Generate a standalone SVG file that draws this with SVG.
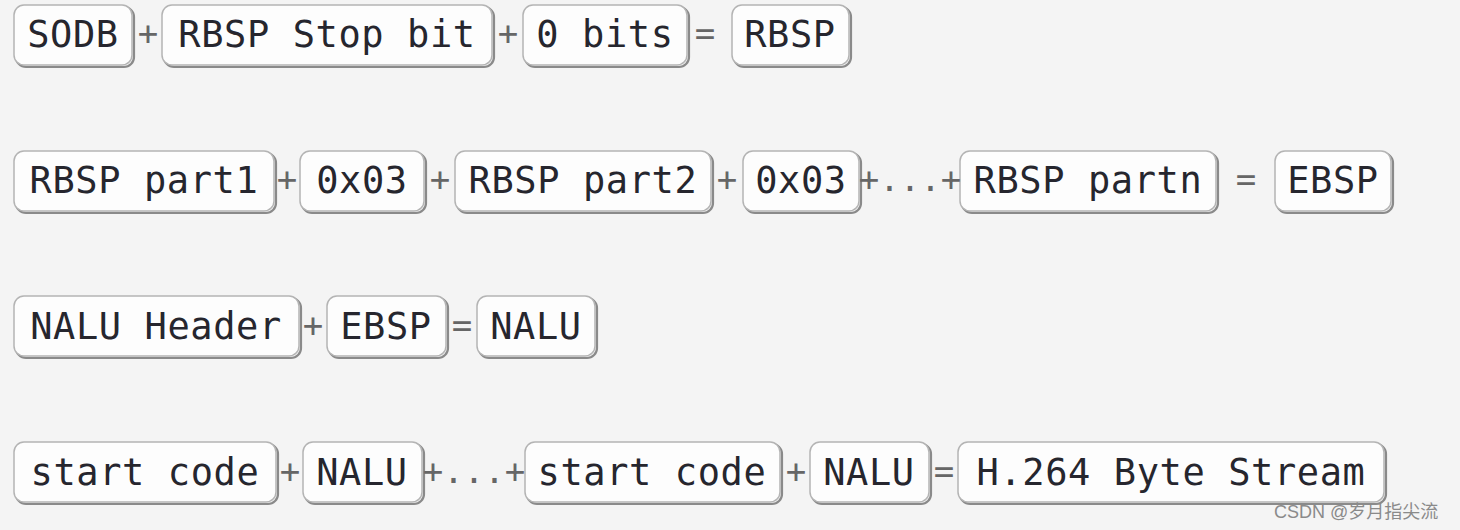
<svg xmlns="http://www.w3.org/2000/svg" width="1460" height="530" viewBox="0 0 1460 530">
<style>
.bg{fill:#f4f4f4}
.sh{fill:none;stroke:#8a8a8a;stroke-width:2.2}
.bx{fill:#fdfdfd;stroke:#b4b4b4;stroke-width:1.5}
.t{font-family:"DejaVu Sans Mono","Liberation Mono",monospace;font-size:37px;letter-spacing:0.6px;fill:#26262e;text-anchor:middle}
.op{font-family:"DejaVu Sans Mono","Liberation Mono",monospace;font-size:34px;fill:#666;text-anchor:middle}
.wm{font-family:"Liberation Sans","Noto Sans CJK SC",sans-serif;font-size:18px;fill:#8a8a8a}
</style>
<rect class="bg" x="0" y="0" width="1460" height="530"/>

<!-- Row 1 -->
<g id="n-sodb"><rect class="sh" x="16" y="7" width="118" height="60" rx="10"/><rect class="bx" x="14" y="5" width="118" height="60" rx="10"/><text class="t" x="73" y="47">SODB</text></g>
<g id="n-stopbit"><rect class="sh" x="164" y="7" width="330" height="60" rx="10"/><rect class="bx" x="162" y="5" width="330" height="60" rx="10"/><text class="t" x="327" y="47">RBSP Stop bit</text></g>
<g id="n-0bits"><rect class="sh" x="525" y="7" width="164" height="60" rx="10"/><rect class="bx" x="523" y="5" width="164" height="60" rx="10"/><text class="t" x="605" y="47">0 bits</text></g>
<g id="n-rbsp"><rect class="sh" x="734" y="7" width="117" height="60" rx="10"/><rect class="bx" x="732" y="5" width="117" height="60" rx="10"/><text class="t" x="790" y="47">RBSP</text></g>

<!-- Row 2 -->
<g id="n-part1"><rect class="sh" x="16" y="153" width="260" height="60" rx="10"/><rect class="bx" x="14" y="151" width="260" height="60" rx="10"/><text class="t" x="144" y="193">RBSP part1</text></g>
<g id="n-0x03a"><rect class="sh" x="302" y="153" width="124" height="60" rx="10"/><rect class="bx" x="300" y="151" width="124" height="60" rx="10"/><text class="t" x="362" y="193">0x03</text></g>
<g id="n-part2"><rect class="sh" x="457" y="153" width="256" height="60" rx="10"/><rect class="bx" x="455" y="151" width="256" height="60" rx="10"/><text class="t" x="583" y="193">RBSP part2</text></g>
<g id="n-0x03b"><rect class="sh" x="745" y="153" width="116" height="60" rx="10"/><rect class="bx" x="743" y="151" width="116" height="60" rx="10"/><text class="t" x="801" y="193">0x03</text></g>
<g id="n-partn"><rect class="sh" x="962" y="153" width="256" height="60" rx="10"/><rect class="bx" x="960" y="151" width="256" height="60" rx="10"/><text class="t" x="1088" y="193">RBSP partn</text></g>
<g id="n-ebsp"><rect class="sh" x="1277" y="153" width="116" height="60" rx="10"/><rect class="bx" x="1275" y="151" width="116" height="60" rx="10"/><text class="t" x="1333" y="193">EBSP</text></g>

<!-- Row 3 -->
<g id="n-header"><rect class="sh" x="16" y="298" width="285" height="60" rx="10"/><rect class="bx" x="14" y="296" width="285" height="60" rx="10"/><text class="t" x="156" y="339">NALU Header</text></g>
<g id="n-ebsp2"><rect class="sh" x="329" y="298" width="119" height="60" rx="10"/><rect class="bx" x="327" y="296" width="119" height="60" rx="10"/><text class="t" x="386" y="339">EBSP</text></g>
<g id="n-nalu"><rect class="sh" x="479" y="298" width="118" height="60" rx="10"/><rect class="bx" x="477" y="296" width="118" height="60" rx="10"/><text class="t" x="536" y="339">NALU</text></g>

<!-- Row 4 -->
<g id="n-start1"><rect class="sh" x="16" y="444" width="262" height="60" rx="10"/><rect class="bx" x="14" y="442" width="262" height="60" rx="10"/><text class="t" x="145" y="485">start code</text></g>
<g id="n-nalu1"><rect class="sh" x="305" y="444" width="119" height="60" rx="10"/><rect class="bx" x="303" y="442" width="119" height="60" rx="10"/><text class="t" x="362" y="485">NALU</text></g>
<g id="n-start2"><rect class="sh" x="527" y="444" width="255" height="60" rx="10"/><rect class="bx" x="525" y="442" width="255" height="60" rx="10"/><text class="t" x="652" y="485">start code</text></g>
<g id="n-nalu2"><rect class="sh" x="812" y="444" width="119" height="60" rx="10"/><rect class="bx" x="810" y="442" width="119" height="60" rx="10"/><text class="t" x="869" y="485">NALU</text></g>
<g id="n-stream"><rect class="sh" x="960" y="444" width="426" height="60" rx="10"/><rect class="bx" x="958" y="442" width="426" height="60" rx="10"/><text class="t" x="1171" y="485">H.264 Byte Stream</text></g>

<!-- Operators (connectors) -->
<g id="connectors">
<text class="op" x="148" y="45">+</text>
<text class="op" x="508" y="45">+</text>
<text class="op" x="705" y="45">=</text>
<text class="op" x="287" y="191">+</text>
<text class="op" x="440" y="191">+</text>
<text class="op" x="727" y="191">+</text>
<text class="op" x="910" y="191">+...+</text>
<text class="op" x="1246" y="191">=</text>
<text class="op" x="313" y="337">+</text>
<text class="op" x="462" y="337">=</text>
<text class="op" x="290" y="483">+</text>
<text class="op" x="474" y="483">+...+</text>
<text class="op" x="796" y="483">+</text>
<text class="op" x="944" y="483">=</text>
</g>

<text class="wm" x="1274" y="518">CSDN @岁月指尖流</text>
</svg>
